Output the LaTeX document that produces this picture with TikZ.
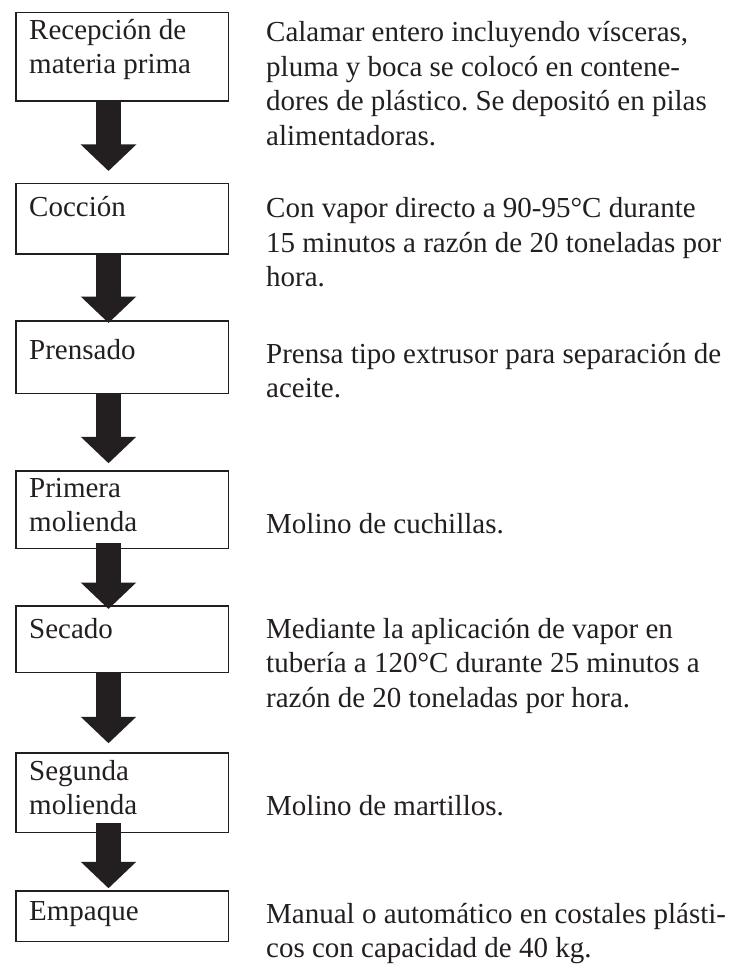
\documentclass[tikz,border=0pt]{standalone}
\usepackage{fontspec}
\setmainfont{Liberation Serif}
\usetikzlibrary{arrows.meta}
\definecolor{ink}{RGB}{35,31,32}
\newcommand\flines[1]{\parbox[t]{475pt}{#1}}
\frenchspacing
\begin{document}
\begin{tikzpicture}[x=1pt,y=-1pt,
  box/.style={draw=ink, line width=1.5pt, minimum width=212.5pt, inner sep=0pt, outer sep=0pt},
  lbl/.style={anchor=base west, inner sep=0pt, text=ink, font=\frenchspacing\fontsize{29}{34.5}\selectfont},
  bigarrow/.style={draw=ink, line width=25pt, -{Triangle[width=54pt,length=26.5pt]}}]
\useasboundingbox[fill=white] (0,0) rectangle (741,965);
% boxes
\node[box, minimum height=88.5pt] (b1) at (122,57) {};
\node[box, minimum height=70.5pt] (b2) at (122,219) {};
\node[box, minimum height=72.5pt] (b3) at (122,357) {};
\node[box, minimum height=77.5pt] (b4) at (122,509.5) {};
\node[box, minimum height=66.5pt] (b5) at (122,639) {};
\node[box, minimum height=79.5pt] (b6) at (122,792.5) {};
\node[box, minimum height=50.5pt] (b7) at (122,916) {};
% box texts
\node[lbl, font=\fontsize{29}{33.5}\selectfont] (t1) at (29,40) {\flines{Recepción de\\materia prima}};
\node[lbl] (t2) at (29,217) {Cocción};
\node[lbl] (t3) at (29,359) {Prensado};
\node[lbl] (t4) at (29,497) {\flines{Primera\\molienda}};
\node[lbl] (t5) at (29,638) {Secado};
\node[lbl] (t6) at (29,780) {\flines{Segunda\\molienda}};
\node[lbl] (t7) at (29,920) {Empaque};
% descriptions
\node[lbl] (d1) at (266,42) {\flines{Calamar entero incluyendo vísceras,\\pluma y boca se colocó en contene-\\dores de plástico. Se depositó en pilas\\alimentadoras.}};
\node[lbl] (d2) at (266,218) {\flines{Con vapor directo a 90-95°C durante\\15 minutos a razón de 20 toneladas por\\hora.}};
\node[lbl] (d3) at (266,363) {\flines{Prensa tipo extrusor para separación de\\aceite.}};
\node[lbl] (d4) at (266,533) {Molino de cuchillas.};
\node[lbl] (d5) at (266,638) {\flines{Mediante la aplicación de vapor en\\tubería a 120°C durante 25 minutos a\\razón de 20 toneladas por hora.}};
\node[lbl] (d6) at (266,815) {Molino de martillos.};
\node[lbl] (d7) at (266,923) {\flines{Manual o automático en costales plásti-\\cos con capacidad de 40 kg.}};
% arrows
\coordinate (ax) at (108.5,0);
\draw[bigarrow, shorten >=12.75pt] (b1.south -| ax) -- (b2.north -| ax);
\draw[bigarrow, shorten >=-2.25pt] (b2.south -| ax) -- (b3.north -| ax);
\draw[bigarrow, shorten >=7.5pt] (b3.south -| ax) -- (b4.north -| ax);
\draw[bigarrow, shorten <=-5.25pt, shorten >=-3.25pt] (b4.south -| ax) -- (b5.north -| ax);
\draw[bigarrow, shorten >=9.5pt] (b5.south -| ax) -- (b6.north -| ax);
\draw[bigarrow, shorten <=-9.25pt, shorten >=2.5pt] (b6.south -| ax) -- (b7.north -| ax);
\end{tikzpicture}
\end{document}
